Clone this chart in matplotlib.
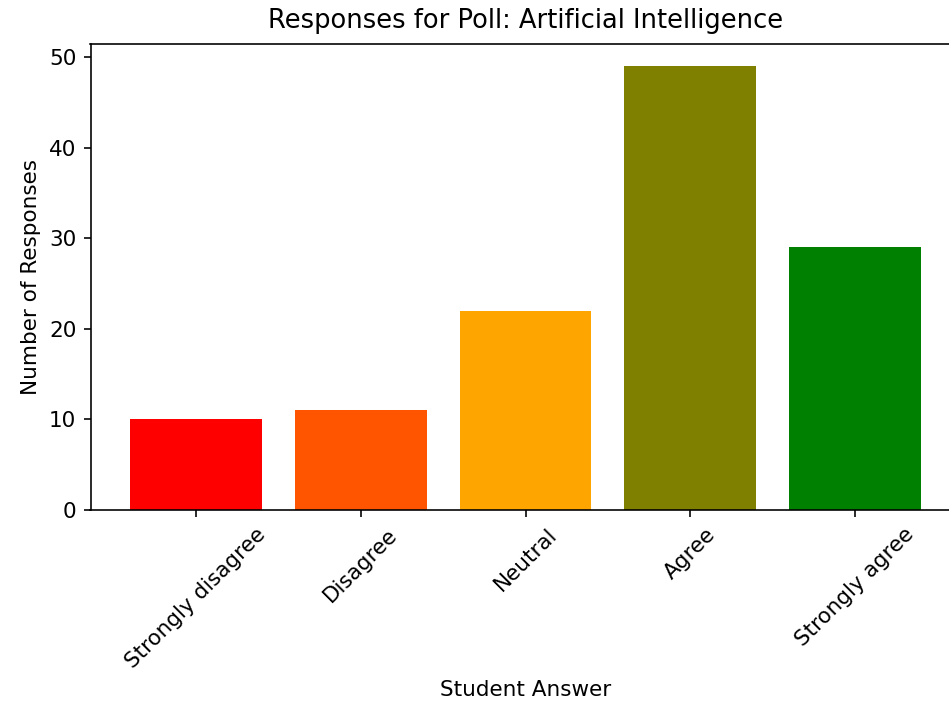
import matplotlib
matplotlib.use("Agg")
import matplotlib.pyplot as plt
import numpy as np

answers = ["Strongly disagree", "Disagree", "Neutral", "Agree", "Strongly agree"]
counts = [10, 11, 22, 49, 29]
colors = ["#ff0000", "#ff5500", "#ffa500", "#808000", "#008000"]

DPI = 146
plt.rcParams["font.size"] = 10.6
fig = plt.figure(figsize=(949 / DPI, 702 / DPI), dpi=DPI)
# axes runs a bit past the right edge, as in the cropped original
ax = fig.add_axes([90.5 / 949, 192 / 702, 870 / 949, 466 / 702])

x = np.arange(len(answers))
ax.bar(x, counts, color=colors)
ax.set_xticks(x)
ax.set_xticklabels(answers, rotation=45)
ax.set_xlabel("Student Answer")
ax.set_ylabel("Number of Responses")
ax.set_title("Responses for Poll: Artificial Intelligence", pad=8)

fig.savefig("out.png", dpi=DPI)
